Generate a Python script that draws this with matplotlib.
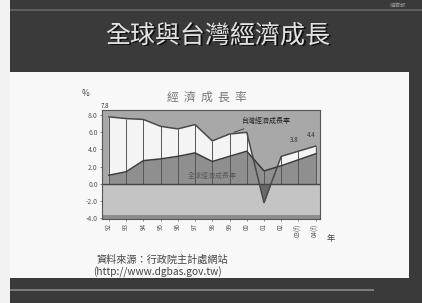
import matplotlib.pyplot as plt
from matplotlib.patches import Rectangle
import numpy as np

plt.rcParams['font.family'] = ['Noto Sans CJK TC', 'DejaVu Sans']

# data (growth rate, %)
years = ['92', '93', '94', '95', '96', '97', '98', '99', '00', '01', '02', '03(f)', '04(f)']
taiwan = [7.8, 7.6, 7.5, 6.7, 6.4, 6.9, 5.0, 5.8, 6.0, -2.2, 3.2, 3.8, 4.4]
world = [1.0, 1.4, 2.7, 2.9, 3.2, 3.6, 2.6, 3.2, 3.8, 1.5, 2.1, 2.8, 3.5]
yticks = [8.0, 6.0, 4.0, 2.0, 0.0, -2.0, -4.0]
point_labels = {0: '7.8', 11: '3.8', 12: '4.4'}

W, H = 422, 303
fig = plt.figure(figsize=(W/100, H/100), dpi=100)
fig.patch.set_facecolor('#3a3a3a')

def box(x0, y0, x1, y1, **kw):
    # pixel box -> figure coords, kept behind the chart axes
    fig.patches.append(Rectangle((x0/W, 1-y1/H), (x1-x0)/W, (y1-y0)/H,
                                 transform=fig.transFigure, zorder=-10, **kw))

def ftext(x, y, s, **kw):
    fig.text(x/W, 1-y/H, s, **kw)

# slide frame
box(0, 0, 10, 303, color='#f2f2f2', lw=0)
box(10, 9, 422, 11, color='#5e5e5e', lw=0)
box(10, 72, 409, 278, color='#f8f8f8', lw=0)
box(10, 289, 374, 291, color='#7a7a7a', lw=0)
ftext(398, 5, '經濟部', color='#9a9a9a', fontsize=4, ha='center', va='center')

# slide title with a small shadow
ftext(219.5, 37, '全球與台灣經濟成長', color='#111111', fontsize=18,
      ha='center', va='center')
ftext(218, 35.5, '全球與台灣經濟成長', color='#e2e2e2', fontsize=18,
      ha='center', va='center')

# chart
ax = fig.add_axes([102/W, 1-219/H, (320-102)/W, (219-110)/H])
ax.set_zorder(5)
x = np.arange(len(years))
tw = np.array(taiwan)
gl = np.array(world)

ax.set_facecolor('#a8a8a8')
ax.axhspan(-4.1, 0, color='#c4c4c4', lw=0)
ax.axhspan(-4.1, -3.6, color='#8c8c8c', lw=0)
ax.fill_between(x, 0, tw, where=tw >= 0, interpolate=True, color='#f4f4f4', lw=0)
ax.fill_between(x, tw, 0, where=tw < 0, interpolate=True, color='#6a6a6a', lw=0)
ax.fill_between(x, 0, gl, color='#8f8f8f', lw=0)
ax.vlines(x, 0, np.maximum(tw, gl), color='#555555', lw=0.7)
ax.plot(x, tw, color='#4a4a4a', lw=1.1)
ax.plot(x, gl, color='#3a3a3a', lw=1.1)
ax.axhline(0, color='#444444', lw=1.0)

for i, s in point_labels.items():
    ax.annotate(s, (x[i], tw[i]), xytext=(-3, 5), textcoords='offset points',
                fontsize=4.5, color='#333333', ha='center', va='bottom')

ax.annotate('台灣經濟成長率', xy=(7.1, 5.9), xytext=(7.7, 7.3),
            fontsize=5, color='#222222', ha='left', va='center',
            arrowprops=dict(arrowstyle='-', color='#333333', lw=0.6))
ax.text(4.6, 0.9, '全球經濟成長率', fontsize=5, color='#5a5a5a',
        ha='left', va='center')

ax.set_xlim(-0.4, 12.25)
ax.set_ylim(-4.1, 8.6)
ax.set_yticks(yticks)
ax.set_yticklabels(['%.1f' % v for v in yticks], fontsize=5, color='#444444')
ax.set_xticks(x)
ax.set_xticklabels(years, rotation=90, fontsize=4.5, color='#444444')
ax.tick_params(length=1.5, width=0.5, pad=1.5, colors='#555555')
for sp in ax.spines.values():
    sp.set_color('#555555')
    sp.set_linewidth(0.8)

ftext(86, 93, '%', fontsize=6, color='#444444', ha='center', va='center')
ftext(207, 97, '經  濟  成  長  率', fontsize=8.5, color='#777777', ha='center', va='center')
ftext(331, 238, '年', fontsize=6, color='#444444', ha='center', va='center')

ftext(97, 260, '資料來源：行政院主計處網站', fontsize=7.3, color='#444444',
      ha='left', va='center')
ftext(93, 272, '(http://www.dgbas.gov.tw)', fontsize=7.3, color='#444444',
      ha='left', va='center')

fig.savefig('out.png', dpi=100, facecolor=fig.get_facecolor())
